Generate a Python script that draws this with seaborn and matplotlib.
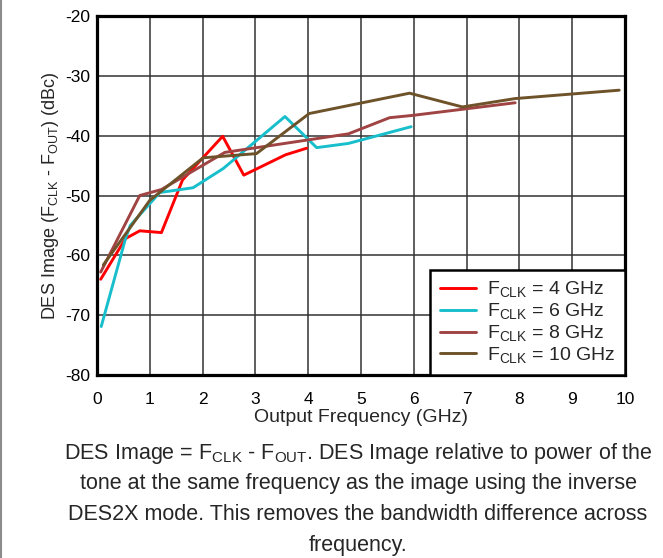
import pandas as pd
import seaborn as sns
import matplotlib.pyplot as plt

# Данные
f4_x = [0.07, 0.54, 0.81, 1.22, 1.62, 2.38, 2.78, 3.57, 3.97]
f4_y = [-64.0, -57.2, -55.9, -56.2, -47.4, -40.1, -46.6, -43.2, -42.1]

f6_x = [0.08, 0.54, 0.63, 1.19, 1.82, 2.39, 3.56, 4.16, 4.76, 5.95]
f6_y = [-71.9, -57.2, -55.0, -49.5, -48.7, -45.5, -36.8, -42.0, -41.3, -38.5]

f8_x = [0.07, 0.81, 1.22, 2.42, 4.76, 5.54, 5.99, 7.92]
f8_y = [-62.8, -50.0, -49.0, -42.8, -39.7, -37.0, -36.6, -34.5]

f10_x = [0.12, 1.0, 2.01, 3.02, 4.02, 5.92, 6.92, 7.92, 9.89]
f10_y = [-61.6, -50.8, -43.7, -43.0, -36.3, -32.9, -35.2, -33.8, -32.4]

labels = [r'F$_{\mathrm{CLK}}$ = 4 GHz', r'F$_{\mathrm{CLK}}$ = 6 GHz',
          r'F$_{\mathrm{CLK}}$ = 8 GHz', r'F$_{\mathrm{CLK}}$ = 10 GHz']
colors = ['#FF0000', '#17BECB', '#A04343', '#6E5229']

caption = [r'DES Image = F$_{\mathrm{CLK}}$ - F$_{\mathrm{OUT}}$. DES Image relative to power of the',
           'tone at the same frequency as the image using the inverse',
           'DES2X mode. This removes the bandwidth difference across',
           'frequency.']

# Длинный формат для seaborn
frames = []
for xs, ys, lab in zip([f4_x, f6_x, f8_x, f10_x], [f4_y, f6_y, f8_y, f10_y], labels):
    frames.append(pd.DataFrame({'freq': xs, 'image': ys, 'series': lab}))
df = pd.concat(frames, ignore_index=True)

sns.set_style('white')
plt.rcParams['font.family'] = ['Liberation Sans', 'DejaVu Sans']
plt.rcParams['mathtext.fontset'] = 'custom'
plt.rcParams['mathtext.rm'] = 'Liberation Sans'
plt.rcParams['mathtext.it'] = 'Liberation Sans:italic'
plt.rcParams['mathtext.bf'] = 'Liberation Sans:bold'
plt.rcParams['axes.unicode_minus'] = False

fig = plt.figure(figsize=(6.63, 5.58), dpi=100)
ax = fig.add_axes([97 / 663, 1 - 375 / 558, 528 / 663, 359 / 558])

sns.lineplot(data=df, x='freq', y='image', hue='series', palette=dict(zip(labels, colors)),
             estimator=None, sort=False, linewidth=2.1, ax=ax)

ax.set_xlim(0, 10)
ax.set_ylim(-80, -20)
ax.set_xticks(range(0, 11))
ax.set_yticks(range(-80, -19, 10))
ax.grid(True, color='#333333', linewidth=1.1)
ax.tick_params(length=0, labelsize=12.5, colors='black')
ax.tick_params(axis='x', pad=12.5)
ax.tick_params(axis='y', pad=5)
for s in ax.spines.values():
    s.set_color('black')
    s.set_linewidth(2.3)

ax.set_xlabel('Output Frequency (GHz)', fontsize=14, labelpad=1)
ax.set_ylabel(r'DES Image (F$_{\mathrm{CLK}}$ - F$_{\mathrm{OUT}}$) (dBc)', fontsize=13, labelpad=3)

leg = ax.legend(loc='lower right', borderaxespad=0, fontsize=14, handlelength=1.85,
                labelspacing=0.1, handletextpad=0.55, borderpad=0.5, fancybox=False,
                framealpha=1)
leg.get_frame().set_edgecolor('black')
leg.get_frame().set_linewidth(1.8)
for line in leg.get_lines():
    line.set_linewidth(2.1)

# Подпись под графиком
for i, line in enumerate(caption):
    fig.text(358 / 663, 1 - (453 + 31 * i) / 558, line, ha='center', va='center', fontsize=15.5)

fig.add_artist(plt.Line2D([0.0015, 0.0015], [0, 1], color='#8c8c8c', linewidth=1.5,
                          transform=fig.transFigure))

fig.savefig('out.png', dpi=100)
